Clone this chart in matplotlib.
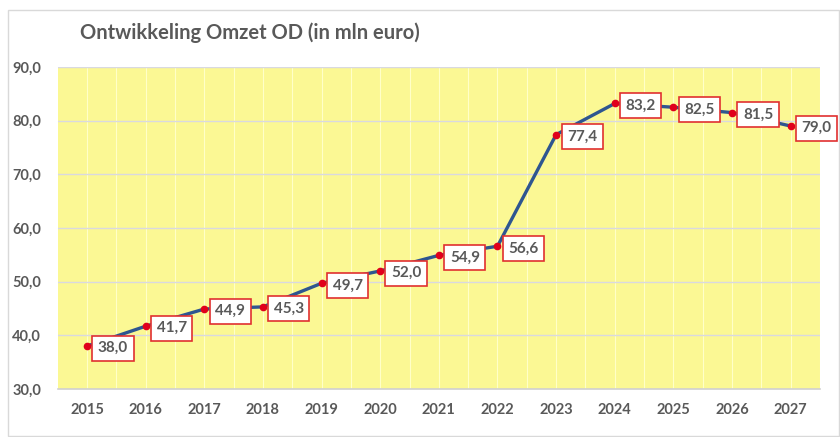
import matplotlib
matplotlib.use("Agg")
import matplotlib.pyplot as plt
from matplotlib.patches import Rectangle

years = ["2015", "2016", "2017", "2018", "2019", "2020", "2021", "2022", "2023", "2024", "2025", "2026", "2027"]
omzet = [38.0, 41.7, 44.9, 45.3, 49.7, 52.0, 54.9, 56.6, 77.4, 83.2, 82.5, 81.5, 79.0]
yticks = [30, 40, 50, 60, 70, 80, 90]
title = "Ontwikkeling Omzet OD (in mln euro)"

FONT = ["Lato", "DejaVu Sans"]
plt.rcParams["font.family"] = FONT

W, H = 840, 437
fig = plt.figure(figsize=(W / 100, H / 100), dpi=100)
fig.patch.set_facecolor("white")
fig.add_artist(Rectangle((8 / W, 0.002), (W - 9) / W, (H - 10) / H - 0.002,
                         transform=fig.transFigure, fill=False, edgecolor="#D9D9D9", lw=1))

ax = fig.add_axes([57.7 / W, (H - 389) / H, (820 - 57.7) / W, (389 - 67) / H])
ax.set_facecolor("#FBF894")
x = list(range(len(years)))
ax.set_xlim(-0.5, len(years) - 0.5)
ax.set_ylim(30, 90)

# faint vertical lines in the background pattern
for i in range(len(years)):
    ax.axvline(i, color="#FFFFC8", lw=0.8, zorder=0.5)
    ax.axvline(i + 0.5, color="#FFFFC8", lw=0.8, zorder=0.5)
for t in yticks[1:]:
    ax.axhline(t, color="#D9D9E0", lw=1, zorder=0.8)

ax.plot(x, omzet, color="#2E5690", lw=2.4, zorder=2, solid_capstyle="round")
ax.plot(x, omzet, "o", color="#E0001B", ms=4.5, zorder=3)

for xi, v in zip(x, omzet):
    ax.annotate(f"{v:.1f}".replace(".", ","), (xi, v), xytext=(18.7, -1.5), textcoords="offset points",
                ha="center", va="center", fontsize=11, fontweight="bold", color="#595959",
                bbox=dict(boxstyle="square,pad=0.36", fc="white", ec="#E03030", lw=1.2), zorder=4)

ax.set_xticks(x)
ax.set_xticklabels(years)
ax.set_yticks(yticks)
ax.set_yticklabels([f"{t:.1f}".replace(".", ",") for t in yticks])
ax.tick_params(length=0, labelsize=10.5, colors="#595959", pad=10)
for lab in ax.get_xticklabels() + ax.get_yticklabels():
    lab.set_fontweight("bold")
ax.tick_params(axis="y", pad=12)
for s in ["top", "right", "left"]:
    ax.spines[s].set_visible(False)
ax.spines["bottom"].set_color("#D0D0D0")
ax.spines["bottom"].set_linewidth(1.2)

fig.text(80 / W, 1 - 33 / H, title, fontsize=14.5, fontweight="bold", color="#595959",
         ha="left", va="center")

fig.savefig("out.png", dpi=100)
